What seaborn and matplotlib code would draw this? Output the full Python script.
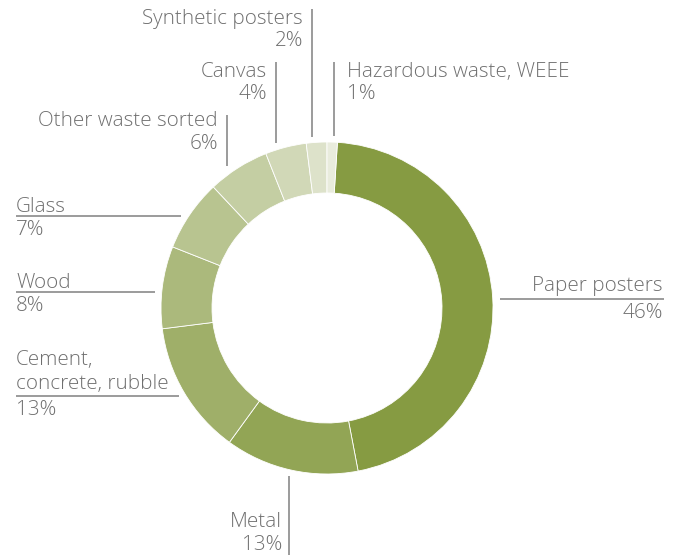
import matplotlib
matplotlib.use("Agg")
import matplotlib.pyplot as plt
import seaborn as sns

# Waste shares, listed clockwise starting right after the top of the ring
categories = ["Paper posters", "Metal", "Cement, concrete, rubble", "Wood", "Glass",
              "Other waste sorted", "Canvas", "Synthetic posters", "Hazardous waste, WEEE"]
shares = [46, 13, 13, 8, 7, 6, 4, 2, 1]
pct_labels = ["46%", "13%", "13%", "8%", "7%", "6%", "4%", "2%", "1%"]

sns.set_theme(style="white")
plt.rcParams["font.family"] = ["Open Sans", "DejaVu Sans"]

W, H = 680, 555
fig = plt.figure(figsize=(W / 100, H / 100), dpi=100)
ax = fig.add_axes([0, 0, 1, 1])


def Y(y):
    """Convert a top-down pixel row into axis y."""
    return H - y


colors = sns.blend_palette(["#869b42", "#e9ecdd"], len(shares))

cx, cy, r_out, ring = 327, 308, 166, 51
start = 90 - 360 * shares[-1] / sum(shares)
ax.pie(shares, colors=colors, startangle=start, counterclock=False,
       center=(cx, Y(cy)), radius=r_out, frame=True,
       wedgeprops=dict(width=ring, edgecolor="white", linewidth=0.6))
ax.set_xlim(0, W)
ax.set_ylim(0, H)
ax.set_aspect("equal")
ax.axis("off")

txt = "#6f6f6f"
ln = "#8a8a8a"
fs = 14.9
kw = dict(color=txt, fontsize=fs, fontweight="light", va="center")


def vline(x, y0, y1):
    ax.plot([x, x], [Y(y0), Y(y1)], color=ln, lw=1.2, solid_capstyle="butt")


def hline(y, x0, x1):
    ax.plot([x0, x1], [Y(y), Y(y)], color=ln, lw=1.2, solid_capstyle="butt")


# Paper posters (right)
ax.text(663, Y(286), categories[0], ha="right", **kw)
hline(299, 500, 664)
ax.text(663, Y(313), pct_labels[0], ha="right", **kw)

# Metal (bottom)
ax.text(282, Y(522), categories[1], ha="right", **kw)
ax.text(282, Y(545), pct_labels[1], ha="right", **kw)
vline(289, 476, 555)

# Cement, concrete, rubble (left, two lines)
ax.text(16, Y(360), "Cement,", ha="left", **kw)
ax.text(16, Y(384), "concrete, rubble", ha="left", **kw)
hline(396, 16, 179)
ax.text(16, Y(410), pct_labels[2], ha="left", **kw)

# Wood
ax.text(16, Y(283), categories[3], ha="left", **kw)
hline(292, 16, 155)
ax.text(16, Y(306), pct_labels[3], ha="left", **kw)

# Glass
ax.text(16, Y(207), categories[4], ha="left", **kw)
hline(216, 16, 181)
ax.text(16, Y(230), pct_labels[4], ha="left", **kw)

# Other waste sorted
ax.text(218, Y(121), categories[5], ha="right", **kw)
ax.text(218, Y(144), pct_labels[5], ha="right", **kw)
vline(227, 115, 166)

# Canvas
ax.text(267, Y(72), categories[6], ha="right", **kw)
ax.text(267, Y(94), pct_labels[6], ha="right", **kw)
vline(276, 62, 143)

# Synthetic posters
ax.text(303, Y(19), categories[7], ha="right", **kw)
ax.text(303, Y(41), pct_labels[7], ha="right", **kw)
vline(312, 9, 137)

# Hazardous waste, WEEE
ax.text(347, Y(72), categories[8], ha="left", **kw)
ax.text(347, Y(94), pct_labels[8], ha="left", **kw)
vline(334, 62, 136)

fig.savefig("out.png", dpi=100, facecolor="white")
